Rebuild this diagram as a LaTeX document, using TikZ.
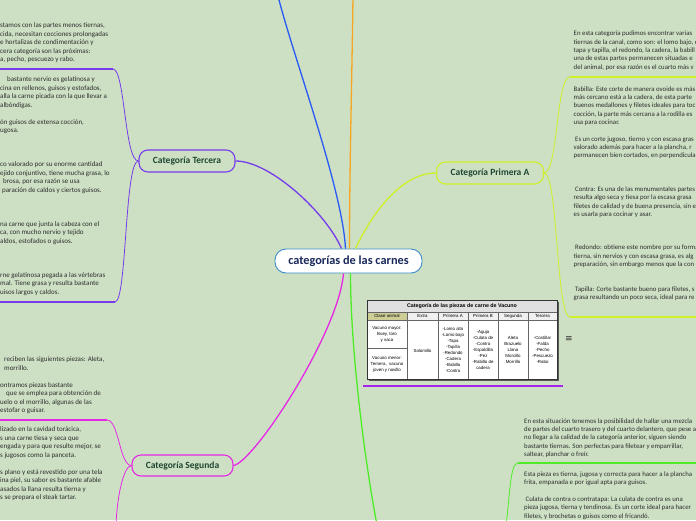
\documentclass[tikz,border=0pt]{standalone}
\usepackage{fontspec}
\setmainfont{Carlito}
\newfontfamily\tablefont{Liberation Sans}
\newfontfamily\symfont{DejaVu Sans}
\definecolor{bg}{RGB}{205,224,196}
\definecolor{rootblue}{RGB}{60,140,200}
\definecolor{rootink}{RGB}{25,40,90}
\definecolor{topicink}{RGB}{30,70,50}
\definecolor{noteink}{RGB}{45,45,45}
\definecolor{tercera}{RGB}{118,60,235}
\definecolor{segunda}{RGB}{230,40,230}
\definecolor{primeraA}{RGB}{205,240,40}
\definecolor{primeraB}{RGB}{80,235,40}
\definecolor{extrablue}{RGB}{40,90,245}
\definecolor{introorange}{RGB}{245,166,35}
\definecolor{tabviolet}{RGB}{165,35,235}
\definecolor{khaki}{RGB}{205,205,150}
\begin{document}
\begin{tikzpicture}[x=1pt,y=-1pt,
    central/.style={draw=rootblue, line width=0.9pt, fill=white, rounded corners=11pt,
        minimum width=147pt, minimum height=24pt, text=rootink,
        font=\fontsize{12.3}{14}\selectfont\bfseries},
    topic/.style={draw=#1, line width=1.1pt, rounded corners=9pt, minimum height=22pt,
        text=topicink, font=\fontsize{9.5}{11}\selectfont\bfseries},
    branch/.style={draw=#1, line width=1.3pt},
    twig/.style={draw=#1, line width=0.8pt},
    underline/.style={draw=#1, line width=1.5pt},
    leftnote/.style={anchor=north west, inner sep=0pt, align=left, text=noteink,
        font=\fontsize{7}{8.5}\selectfont, execute at begin node=\strut},
    rightnote/.style={leftnote, font=\fontsize{6.8}{8.35}\selectfont},
    cell/.style={align=center, inner sep=0pt, font=\tablefont\fontsize{4.4}{6}\selectfont},
  ]
  \useasboundingbox (0,0) rectangle (696,520);
  \fill[bg] (0,0) rectangle (696,520);

  % main topic and categories
  \node[central] (root) at (348.5,261) {categorías de las carnes};
  \node[topic=tercera, minimum width=96pt] (tercera) at (187,161) {Categoría Tercera};
  \node[topic=segunda, minimum width=101pt, minimum height=21pt] (segunda) at (182.5,465.5) {Categoría Segunda};
  \node[topic=primeraA, minimum width=107pt] (primeraA) at (490,173) {Categoría Primera A};

  \coordinate (extra) at (278,-4);
  \coordinate (intro) at (353,-4);
  \coordinate (primeraB) at (378,530);

  \draw[branch=extrablue] ([xshift=-3pt]root.north) .. controls +(-3,-60) and +(15,60) .. (extra);
  \draw[branch=introorange] ([xshift=1pt]root.north) .. controls +(0,-80) and +(-1,80) .. (intro);
  \draw[branch=primeraA] ([xshift=7pt]root.north) .. controls +(10,-22) and +(-40,0) .. (primeraA.west);
  \draw[branch=tercera] ([xshift=-7pt]root.north) .. controls +(-15,-35) and +(35,0) .. (tercera.east);
  \draw[branch=segunda] ([xshift=-5pt]root.south) .. controls +(-5,60) and +(20,-3) .. (segunda.east);
  \draw[branch=primeraB] ([xshift=2pt]root.south) .. controls +(0,80) and +(-12,-60) .. (primeraB);

  % Tercera
  \coordinate (t1) at (113,69);
  \coordinate (t2) at (115,302);
  \draw[twig=tercera] (tercera.west) .. controls +(-14,0) and +(12,0) .. (t1);
  \draw[twig=tercera] (tercera.west) .. controls +(-14,0) and +(12,0) .. (t2);
  \draw[underline=tercera] (t1) -- ++(-120,0);
  \draw[underline=tercera] (t2) -- ++(-120,0);
  \node[leftnote] (terceraIntro) at (0,22.8) {stamos con las partes menos tiernas,\\
    cida, necesitan cocciones prolongadas\\ e hortalizas de condimentación y\\
    cera categoría son las próximas:\\ a, pecho, pescuezo y rabo.};
  \node[leftnote] (terceraCortes) at (0,76.8) {\hspace*{7pt}bastante nervio es gelatinosa y\\
    cina en rellenos, guisos y estofados,\\ alla la carne picada con la que llevar a\\
    albóndigas.\\ ~\\ ón guisos de extensa cocción,\\ ugosa.\\ ~\\ ~\\ ~\\
    co valorado por su enorme cantidad\\ ejido conjuntivo, tiene mucha grasa, lo\\
    \hspace*{3pt}brosa, por esa razón se usa\\ \hspace*{2pt}paración de caldos y ciertos guisos.\\
    ~\\ ~\\ ~\\ na carne que junta la cabeza con el\\ ca, con mucho nervio y tejido\\
    aldos, estofados o guisos.\\ ~\\ ~\\ ~\\ rne gelatinosa pegada a las vértebras\\
    mal. Tiene grasa y resulta bastante\\ uisos largos y caldos.};

  % Segunda
  \coordinate (s1) at (107,420);
  \coordinate (s2) at (116,530);
  \draw[twig=segunda] (segunda.west) .. controls +(-12,0) and +(12,0) .. (s1);
  \draw[twig=segunda] (segunda.west) .. controls +(-8,0) and +(0,-30) .. (s2);
  \draw[underline=segunda] (s1) -- ++(-120,0);
  \node[leftnote] (segundaIntro) at (0,356.8) {\hspace*{4pt}reciben las siguientes piezas: Aleta,\\
    \hspace*{4pt}morrillo.\\ ~\\ ontramos piezas bastante\\
    \hspace*{6pt}que se emplea para obtención de\\ uelo o el morrillo, algunas de las\\
    estofar o guisar.};
  \node[leftnote] (segundaCortes) at (0,426.8) {lizado en la cavidad torácica,\\
    s una carne tiesa y seca que\\ engada y para que resulte mejor, se\\
    s jugosos como la panceta.\\ ~\\ s plano y está revestido por una tela\\
    ina piel, su sabor es bastante afable\\ asados la llana resulta tierna y\\
    s se prepara el steak tartar.};

  % Primera A
  \coordinate (p1) at (570,77);
  \coordinate (p2) at (570,317);
  \draw[twig=primeraA] (primeraA.east) .. controls +(14,0) and +(-14,0) .. (p1);
  \draw[twig=primeraA] (primeraA.east) .. controls +(14,0) and +(-14,0) .. (p2);
  \draw[underline=primeraA] (p1) -- ++(140,0);
  \draw[underline=primeraA] (p2) -- ++(140,0);
  \node[rightnote] (primeraAIntro) at (573.5,30.8) {En esta categoría pudimos encontrar varias\\
    tiernas de la canal, como son: el lomo bajo, e\\
    tapa y tapilla, el redondo, la cadera, la babill\\
    una de estas partes permanecen situadas e\\ del animal, por esa razón es el cuarto más v};
  \node[rightnote] (primeraACortes) at (573.5,86.2) {Babilla: Este corte de manera ovoide es más\\
    más cercano está a la cadera, de esta parte\\ buenos medallones y filetes ideales para toc\\
    cocción, la parte más cercana a la rodilla es\\ usa para cocinar.\\ ~\\
    \hspace*{1.5pt}Es un corte jugoso, tierno y con escasa gras\\
    valorado además para hacer a la plancha, r\\ permanecen bien cortados, en perpendicula\\
    ~\\ ~\\ ~\\ \hspace*{1.5pt}Contra: Es una de las monumentales partes\\
    resulta algo seca y tiesa por la escasa grasa\\ filetes de calidad y de buena presencia, sin e\\
    es usarla para cocinar y asar.\\ ~\\ ~\\ ~\\
    \hspace*{1.5pt}Redondo: obtiene este nombre por su forma\\
    tierna, sin nervios y con escasa grasa, es alg\\ preparación, sin embargo menos que la con\\
    ~\\ ~\\ \hspace*{1.5pt}Tapilla: Corte bastante bueno para filetes, s\\
    grasa resultando un poco seca, ideal para re};

  % Primera B
  \coordinate (b0) at (505,535);
  \coordinate (b1) at (518,463);
  \draw[twig=primeraB] (b0) .. controls +(5,-40) and +(-8,0) .. (b1);
  \draw[underline=primeraB] (b1) -- ++(190,0);
  \node[rightnote] (primeraBIntro) at (524,418.2) {En esta situación tenemos la posibilidad de hallar una mezcla\\
    de partes del cuarto trasero y del cuarto delantero, que pese a\\
    no llegar a la calidad de la categoría anterior, siguen siendo\\
    bastante tiernas. Son perfectas para filetear y emparrillar,\\ saltear, planchar o freír.};
  \node[rightnote] (primeraBCortes) at (524,471.5) {Esta pieza es tierna, jugosa y correcta para hacer a la plancha\\
    frita, empanada e por igual apta para guisos.\\ ~\\
    \hspace*{1.5pt}Culata de contra o contratapa: La culata de contra es una\\
    pieza jugosa, tierna y tendinosa. Es un corte ideal para hacer\\
    filetes, y brochetas o guisos como el fricandó.};

  % table of cuts
  \begin{scope}[shift={(367,300)}]
    \fill[black!65] (2,2) rectangle (192,81);
    \fill[white] (0,0) rectangle (190,79);
    \fill[black!12] (0,0) rectangle (190,12);
    \fill[black!6] (40,12) rectangle (190,20);
    \fill[khaki] (0,12) rectangle (40,20);
    \draw[black!60, line width=0.4pt] (0,12) -- (190,12) (0,20) -- (190,20) (0,48) -- (40,48);
    \foreach \cx in {40,71,101,131,161}
      \draw[black!60, line width=0.4pt] (\cx,12) -- (\cx,79);
    \draw[black!80, line width=0.7pt] (0,0) rectangle (190,79);
    \node[cell, font=\tablefont\bfseries\fontsize{5.3}{6}\selectfont] (tabTitle) at (95,6) {Categoría de las piezas de carne de Vacuno};
    \node[cell] (hClase) at (20,16) {Clase animal};
    \node[cell] (hExtra) at (55.5,16) {Extra};
    \node[cell] (hPrimA) at (86,16) {Primera A};
    \node[cell] (hPrimB) at (116,16) {Primera B};
    \node[cell] (hSeg) at (146,16) {Segunda};
    \node[cell] (hTer) at (175.5,16) {Tercera};
    \node[cell] (mayor) at (20,34.7) {Vacuno mayor:\\Buey, toro\\y vaca};
    \node[cell] (menor) at (20,64.7) {Vacuno menor:\\Ternera,\ \ vacuno\\joven y novillo};
    \node[cell] (cExtra) at (55.5,50.7) {Solomillo};
    \node[cell] (cPrimA) at (86,50) {-Lomo alto\\-Lomo bajo\\-Tapa\\-Tapilla\\-Redondo\\-Cadera\\-Babilla\\-Contra};
    \node[cell] (cPrimB) at (116,50) {-Aguja\\-Culata de\\-Contra\\-Espaldilla\\-Pez\\-Rabillo de\\cadera};
    \node[cell] (cSeg) at (146,49.5) {Aleta\\Brazuelo\\Llana\\Morcillo\\Morrillo};
    \node[cell] (cTer) at (175.5,50) {-Costillar\\-Falda\\-Pecho\\-Pescuezo\\-Rabo};
  \end{scope}
  \draw[underline=tabviolet] (363,386) -- (563,386);
  \node[text=noteink, font=\symfont\fontsize{9}{9}\selectfont] (noteicon) at (569,339) {≡};
\end{tikzpicture}
\end{document}
